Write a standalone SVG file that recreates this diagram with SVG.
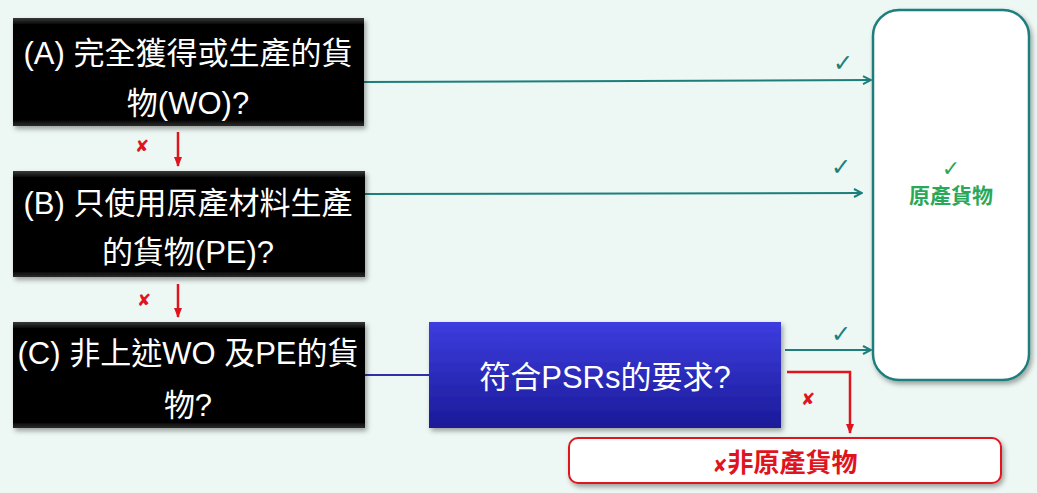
<svg xmlns="http://www.w3.org/2000/svg" width="1037" height="493" viewBox="0 0 1037 493">
<defs>
<linearGradient id="gBlack" x1="0" y1="0" x2="0" y2="1">
<stop offset="0" stop-color="#3a3a3a"/><stop offset="0.06" stop-color="#050505"/><stop offset="0.94" stop-color="#000"/><stop offset="1" stop-color="#2a2a2a"/>
</linearGradient>
<linearGradient id="gBlue" x1="0" y1="0" x2="0" y2="1">
<stop offset="0" stop-color="#3d3de0"/><stop offset="1" stop-color="#1a1a98"/>
</linearGradient>
<filter id="sh" x="-10%" y="-10%" width="120%" height="130%">
<feDropShadow dx="2" dy="3" stdDeviation="2.5" flood-color="#000" flood-opacity="0.35"/>
</filter>
<marker id="mT" viewBox="0 0 10 10" refX="9" refY="5" markerWidth="10" markerHeight="10" markerUnits="userSpaceOnUse" orient="auto">
<path d="M1,1 L9,5 L1,9" fill="none" stroke="#1c7f7c" stroke-width="2"/>
</marker>
<marker id="mR" viewBox="0 0 10 10" refX="9" refY="5" markerWidth="10" markerHeight="10" markerUnits="userSpaceOnUse" orient="auto">
<path d="M0,1 L10,5 L0,9 z" fill="#e0141c"/>
</marker>
</defs>
<style>
.q{font-family:"Liberation Sans","Noto Sans CJK TC",sans-serif;font-size:31px;fill:#fff;text-anchor:middle}
.tk{font-family:"DejaVu Sans",sans-serif;font-size:24px;fill:#1c7f7c;text-anchor:middle}
.x{font-family:"DejaVu Sans",sans-serif;font-size:17px;font-weight:bold;fill:#e0141c;text-anchor:middle}
.tl{fill:none;stroke:#1c7f7c;stroke-width:2}
.rl{fill:none;stroke:#e0141c;stroke-width:2.5}
</style>
<rect width="1037" height="493" fill="#edf7f3"/>
<g id="connectors">
<line class="tl" x1="364" y1="82" x2="871" y2="80" marker-end="url(#mT)"/>
<line class="tl" x1="365" y1="194" x2="862" y2="193" marker-end="url(#mT)"/>
<line class="tl" x1="785" y1="350" x2="871" y2="350" marker-end="url(#mT)"/>
<line x1="365" y1="375" x2="429" y2="375" stroke="#3030a8" stroke-width="2"/>
<line class="rl" x1="178" y1="132" x2="178" y2="166" marker-end="url(#mR)"/>
<line class="rl" x1="178" y1="284" x2="178" y2="317" marker-end="url(#mR)"/>
<polyline class="rl" points="787,372 850,372 850,433" marker-end="url(#mR)"/>
<text class="tk" x="843" y="71">✓</text>
<text class="tk" x="841" y="175">✓</text>
<text class="tk" x="841" y="342">✓</text>
<text class="x" x="142" y="152">✘</text>
<text class="x" x="144" y="306">✘</text>
<text class="x" x="808" y="405">✘</text>
</g>
<g id="nodeA">
<rect x="13" y="18" width="351" height="108" fill="url(#gBlack)" filter="url(#sh)"/>
<text class="q" x="188" y="64">(A) 完全獲得或生產的貨</text>
<text class="q" x="188" y="114">物(WO)?</text>
</g>
<g id="nodeB">
<rect x="13" y="171" width="352" height="106" fill="url(#gBlack)" filter="url(#sh)"/>
<text class="q" x="188" y="214">(B) 只使用原產材料生產</text>
<text class="q" x="188" y="263">的貨物(PE)?</text>
</g>
<g id="nodeC">
<rect x="13" y="322" width="352" height="106" fill="url(#gBlack)" filter="url(#sh)"/>
<text class="q" x="188" y="364">(C) 非上述WO 及PE的貨</text>
<text class="q" x="188" y="416">物?</text>
</g>
<g id="nodePSR">
<rect x="429" y="322" width="352" height="106" fill="url(#gBlue)" filter="url(#sh)"/>
<text class="q" x="605" y="388">符合PSRs的要求?</text>
</g>
<g id="nodeOrigin">
<rect x="873" y="10" width="156" height="370" rx="26" fill="#fff" stroke="#1c7f7c" stroke-width="2.5" filter="url(#sh)"/>
<text x="951" y="176" font-family="DejaVu Sans,sans-serif" font-size="22" fill="#2aa85a" text-anchor="middle">✓</text>
<text x="951" y="203" font-family="Liberation Sans,Noto Sans CJK TC,sans-serif" font-size="21" font-weight="bold" fill="#2aa85a" text-anchor="middle">原產貨物</text>
</g>
<g id="nodeNon">
<rect x="569" y="438" width="432" height="45" rx="9" fill="#fff" stroke="#e0141c" stroke-width="2" filter="url(#sh)"/>
<text x="785" y="472" font-family="Liberation Sans,Noto Sans CJK TC,sans-serif" font-size="26" font-weight="bold" fill="#e0141c" text-anchor="middle"><tspan font-family="DejaVu Sans,sans-serif" font-size="18">✘</tspan>非原產貨物</text>
</g>
</svg>
